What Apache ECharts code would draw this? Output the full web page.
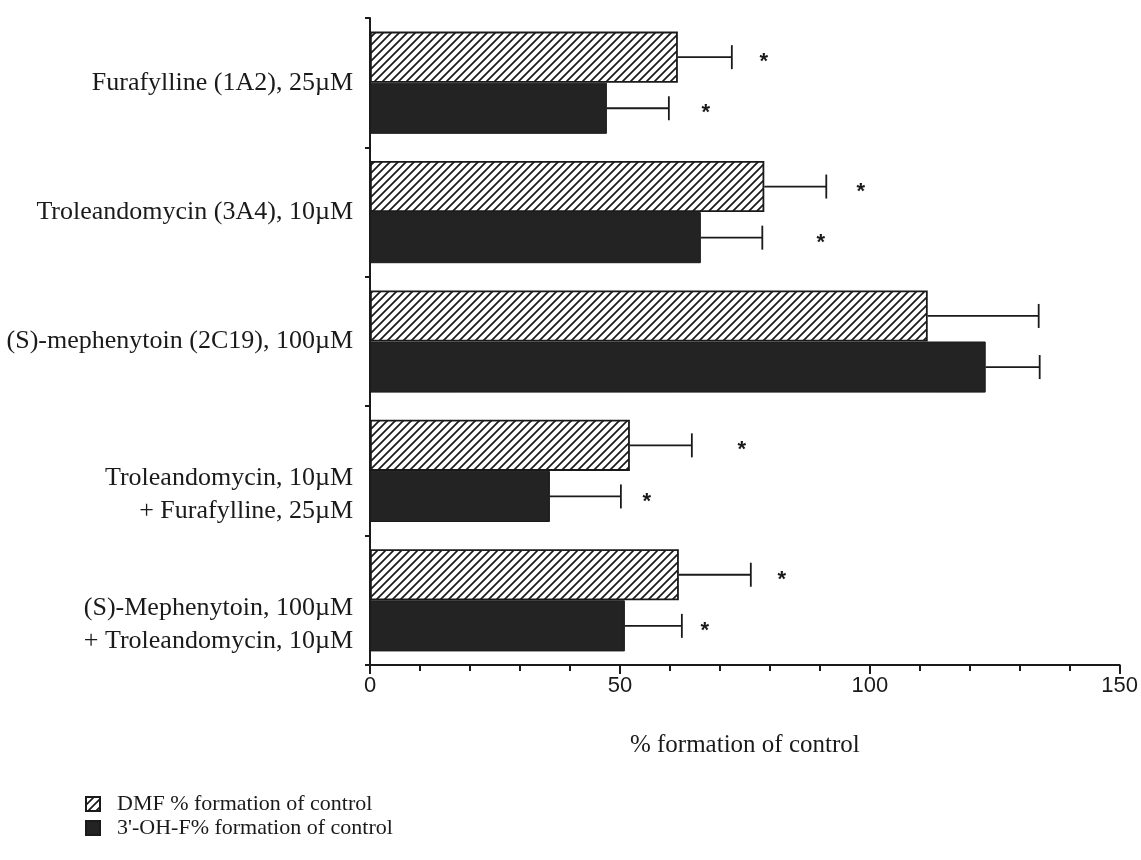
<!DOCTYPE html>
<html>
<head>
<meta charset="utf-8">
<script src="https://cdn.jsdelivr.net/npm/echarts@6/dist/echarts.min.js"></script>
<style>
  html, body { margin: 0; padding: 0; background: #fff; }
  #chart { width: 1141px; height: 860px; }
</style>
</head>
<body>
<div id="chart"></div>
<script>
// Inhibitor treatments (top to bottom)
const categories = [
  'Furafylline (1A2), 25\u00b5M',
  'Troleandomycin (3A4), 10\u00b5M',
  '(S)-mephenytoin (2C19), 100\u00b5M',
  'Troleandomycin, 10\u00b5M\n+ Furafylline, 25\u00b5M',
  '(S)-Mephenytoin, 100\u00b5M\n+ Troleandomycin, 10\u00b5M'
];
const seriesNames = ['DMF % formation of control', "3'-OH-F% formation of control"];

// Mean % formation of control and error (upper bar)
const dmfMean = [61.6, 78.9, 111.6, 52.0, 61.8];
const dmfErr  = [10.8, 12.4, 22.2, 12.4, 14.4];
const ohfMean = [47.4, 66.2, 123.2, 36.0, 51.0];
const ohfErr  = [12.4, 12.3, 10.8, 14.2, 11.4];

// Significance asterisks, placed at these axis values (null = not significant)
const dmfStarAt = [78.8, 98.2, null, 74.4, 82.4];
const ohfStarAt = [67.2, 90.2, null, 55.4, 67.0];

const xTicks = [0, 50, 100, 150];

// Diagonal hatch fill for the DMF bars
function hatch() {
  const s = 8;
  const c = document.createElement('canvas');
  c.width = s; c.height = s;
  const g = c.getContext('2d');
  g.fillStyle = '#fff';
  g.fillRect(0, 0, s, s);
  g.strokeStyle = '#1a1a1a';
  g.lineWidth = 1.7;
  g.beginPath();
  g.moveTo(-1, s + 1); g.lineTo(s + 1, -1);
  g.moveTo(-1, 1); g.lineTo(1, -1);
  g.moveTo(s - 1, s + 1); g.lineTo(s + 1, s - 1);
  g.stroke();
  return c;
}

const catGapRatio = 0.21;

function errorBars(means, errs, stars, slot) {
  return {
    type: 'custom',
    silent: true,
    z: 5,
    data: means.map((m, i) => [i, m, errs[i]]),
    encode: { x: 1, y: 0 },
    renderItem: function (params, api) {
      const i = api.value(0);
      const m = api.value(1);
      const e = api.value(2);
      const band = api.size([0, 1])[1];
      const barW = band * (1 - catGapRatio) / 2;
      const c = api.coord([m, i]);
      const y = c[1] + (slot === 0 ? -barW / 2 : barW / 2);
      const x0 = c[0];
      const x1 = api.coord([m + e, i])[0];
      const capH = 12;
      const lineStyle = { stroke: '#1a1a1a', lineWidth: 1.8 };
      const children = [
        { type: 'line', shape: { x1: x0, y1: y, x2: x1, y2: y }, style: lineStyle },
        { type: 'line', shape: { x1: x1, y1: y - capH, x2: x1, y2: y + capH }, style: lineStyle }
      ];
      const st = stars[params.dataIndex];
      if (st != null) {
        const sx = api.coord([st, i])[0];
        children.push({
          type: 'text',
          style: {
            text: '*', x: sx, y: y + 5,
            fill: '#1a1a1a',
            font: 'bold 22px "Liberation Sans"',
            align: 'center', verticalAlign: 'middle'
          }
        });
      }
      return { type: 'group', children: children };
    }
  };
}

const chart = echarts.init(document.getElementById('chart'), null, { renderer: 'canvas' });

chart.setOption({
  animation: false,
  backgroundColor: '#fff',
  grid: { left: 370, right: 19, top: 18, bottom: 195 },
  legend: {
    orient: 'vertical',
    left: 80,
    top: 788,
    itemWidth: 14,
    itemHeight: 14,
    itemGap: 2,
    icon: 'rect',
    data: seriesNames,
    textStyle: {
      fontFamily: 'Liberation Serif', fontSize: 22, color: '#1a1a1a',
      padding: [0, 0, 0, 12]
    }
  },
  xAxis: {
    type: 'value',
    min: xTicks[0],
    max: xTicks[xTicks.length - 1],
    interval: 50,
    name: '% formation of control',
    nameLocation: 'middle',
    nameGap: 68,
    nameTextStyle: { fontFamily: 'Liberation Serif', fontSize: 25, color: '#1a1a1a' },
    axisLine: { show: true, lineStyle: { color: '#1a1a1a', width: 2 } },
    axisTick: { show: true, length: 9, lineStyle: { color: '#1a1a1a', width: 2 } },
    minorTick: { show: true, splitNumber: 5, length: 6, lineStyle: { color: '#1a1a1a', width: 2 } },
    splitLine: { show: false },
    minorSplitLine: { show: false },
    axisLabel: { fontFamily: 'Liberation Sans', fontSize: 22, color: '#1a1a1a', margin: 10 }
  },
  yAxis: {
    type: 'category',
    inverse: true,
    data: categories,
    axisLine: { show: true, lineStyle: { color: '#1a1a1a', width: 2 } },
    axisTick: { show: true, length: 5, lineStyle: { color: '#1a1a1a', width: 2 } },
    axisLabel: {
      fontFamily: 'Liberation Serif',
      fontSize: 26,
      color: '#1a1a1a',
      margin: 17,
      lineHeight: 33,
      formatter: function (v) {
        // two-line labels sit alongside the lower bar
        return v.indexOf('\n') >= 0 ? '{g|}\n' + v : v;
      },
      rich: { g: { lineHeight: 48 } }
    }
  },
  series: [
    {
      name: seriesNames[0],
      type: 'bar',
      data: dmfMean,
      barGap: '0%',
      barCategoryGap: (catGapRatio * 100) + '%',
      itemStyle: {
        color: { image: hatch(), repeat: 'repeat' },
        borderColor: '#1a1a1a',
        borderWidth: 1.8
      }
    },
    {
      name: seriesNames[1],
      type: 'bar',
      data: ohfMean,
      barGap: '0%',
      barCategoryGap: (catGapRatio * 100) + '%',
      itemStyle: { color: '#232323', borderColor: '#1a1a1a', borderWidth: 1 }
    },
    errorBars(dmfMean, dmfErr, dmfStarAt, 0),
    errorBars(ohfMean, ohfErr, ohfStarAt, 1)
  ]
});
</script>
</body>
</html>
